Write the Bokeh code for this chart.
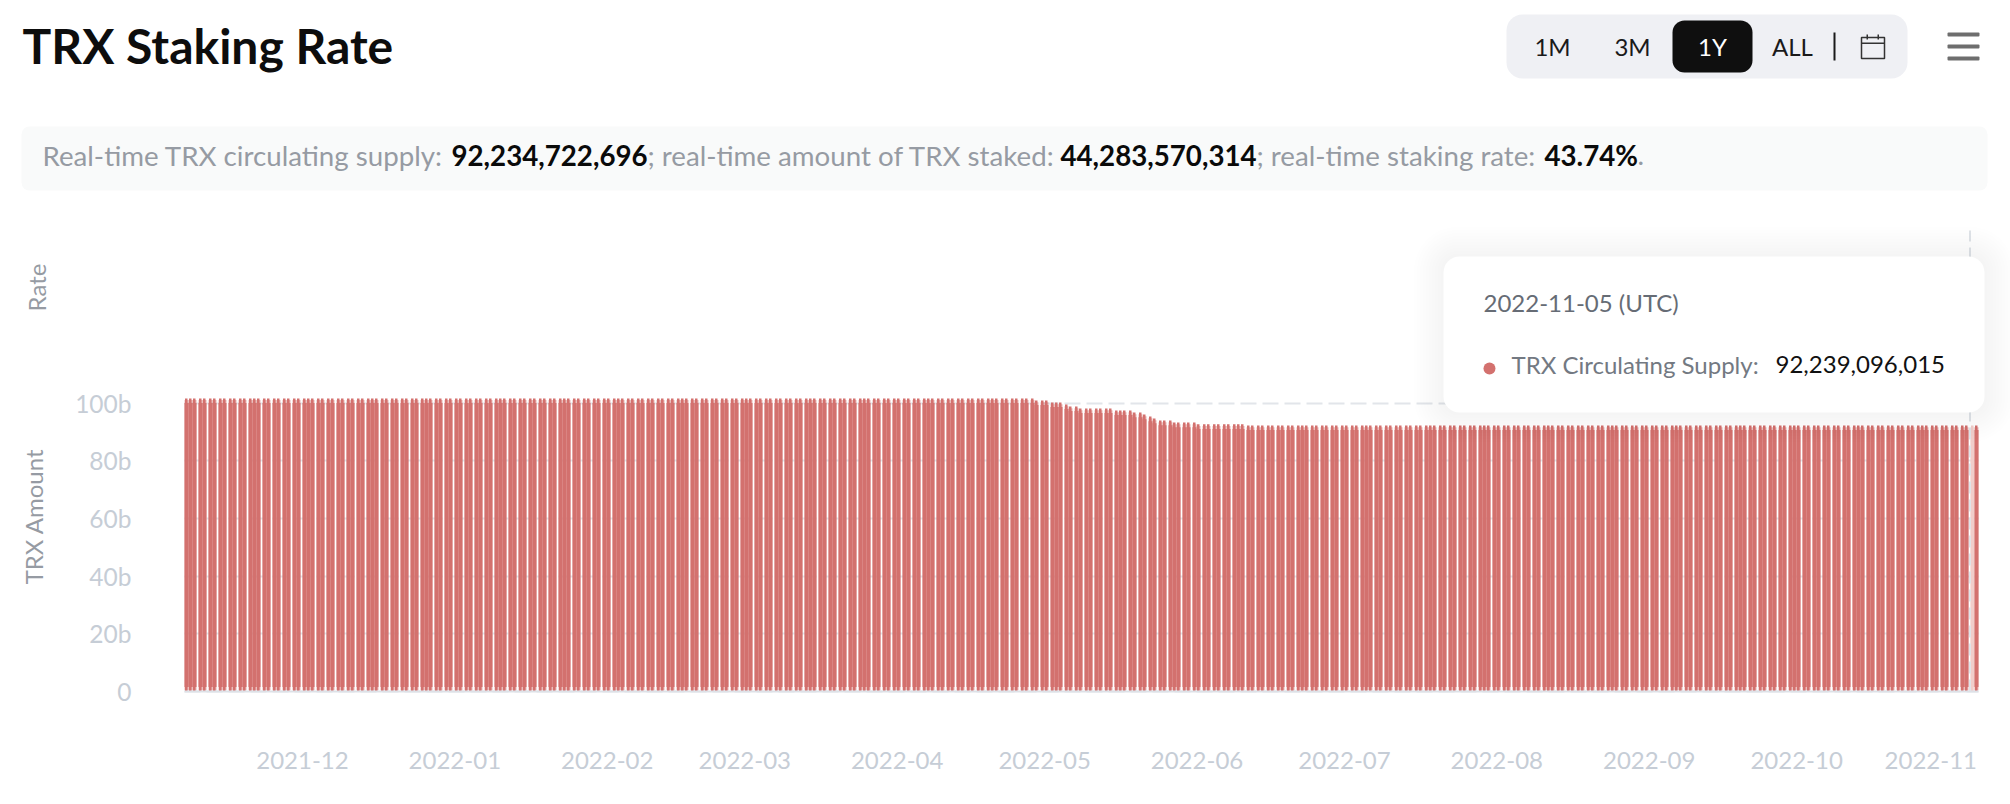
from datetime import date
import math
from bokeh.embed import file_html
from bokeh.resources import INLINE
from bokeh.plotting import figure
from bokeh.models import (BoxAnnotation, ColumnDataSource, FixedTicker, Label)

# ---------- data ----------
start_date = date(2021, 11, 7)
tick_dates = ["2021-12-01", "2022-01-01", "2022-02-01", "2022-03-01", "2022-04-01", "2022-05-01",
              "2022-06-01", "2022-07-01", "2022-08-01", "2022-09-01", "2022-10-01", "2022-11-01"]
y_ticks = [0, 20, 40, 60, 80, 100]
y_tick_labels = ["0", "20b", "40b", "60b", "80b", "100b"]
# circulating supply, billions of TRX, one value per day
supply = ([101.6] * 173 + [100.9] * 3 + [100.2] * 3 + [99.5] + [98.8] * 2 + [98.1] * 7 + [97.4] * 4
          + [96.7] * 2 + [96.0, 95.3, 94.6] + [93.9] * 3 + [93.2] * 5 + [92.6] * 10 + [92.2] * 149)
# how the daily bars bunch together on screen: days between successive three-day clusters
cluster_runs = [13, 11, 13, 11, 15, 13, 11, 13, 13, 13, 11, 13, 13, 13, 13, 11, 13, 13, 13, 13, 11,
                13, 13, 13, 13, 11, 13, 13, 13]
hover_day = 363

# ---------- layout (reference pixels) ----------
F_L, F_R, F_B = 184, 1978, 691
WIDTH, HEIGHT = 2010, 804
PX_DAY = (F_R - F_L) / len(supply)
PX_B = 2.885
RED, PALE = "#d3716e", "#f1cdca"

lefts = []
px = 0
for run in cluster_runs:
    left = run
    size = 3
    while left > 0:
        for j in range(size):
            lefts.append(px + 4 * j)
        px += 4 * size + 2
        left -= size
        size = 2


def d(x):
    return x / PX_DAY


colors = [PALE if i == hover_day else RED for i in range(len(supply))]
body = ColumnDataSource(dict(l=[d(x) for x in lefts], r=[d(x + 4) for x in lefts],
                             b=[1.6] * len(supply), t=[v - 1.6 for v in supply], c=colors))
soft = ColumnDataSource(dict(l=[d(x) for x in lefts], r=[d(x + 4) for x in lefts],
                             b=[0.4] * len(supply), t=[v - 0.6 for v in supply], c=colors))
core = ColumnDataSource(dict(l=[d(x + 0.5) for x in lefts], r=[d(x + 3) for x in lefts],
                             b=[0] * len(supply), t=supply, c=colors))

# the frame fills the whole picture, so that the page furniture around the chart is not clipped
p = figure(width=WIDTH, height=HEIGHT, output_backend="svg", toolbar_location=None,
           x_range=(d(-F_L), d(WIDTH - F_L)), y_range=((F_B - HEIGHT) / PX_B, F_B / PX_B),
           min_border=0)
p.outline_line_color = None
p.background_fill_color = "white"
p.border_fill_color = "white"

n_days = len(supply)
p.xgrid.visible = False
p.ygrid.grid_line_color = "#e2e5ea"
p.ygrid.grid_line_width = 2
p.ygrid.grid_line_dash = [16, 6]
p.ygrid.cross_bounds = (0, n_days)

p.quad(left="l", right="r", bottom="b", top="t", source=soft, fill_color="c", fill_alpha=0.5, line_color=None)
p.quad(left="l", right="r", bottom="b", top="t", source=core, fill_color="c", line_color=None)
p.quad(left="l", right="r", bottom="b", top="t", source=body, fill_color="c", line_color=None)

# axes
yaxis = p.yaxis[0]
yaxis.fixed_location = 0
yaxis.ticker = FixedTicker(ticks=y_ticks)
yaxis.major_label_overrides = dict(zip(y_ticks, y_tick_labels))
yaxis.axis_line_color = None
yaxis.major_tick_line_color = None
yaxis.minor_tick_line_color = None
yaxis.major_label_standoff = 47
yaxis.major_label_text_font = "Lato"
yaxis.major_label_text_font_size = "24.5px"
yaxis.major_label_text_color = "#c6cdd6"

tick_pos = []
for s in tick_dates:
    y, m, dd = map(int, s.split("-"))
    tick_pos.append(float((date(y, m, dd) - start_date).days))
tick_pos[-1] -= 3.7  # the last label is pushed left to stay inside the chart
xaxis = p.xaxis[0]
xaxis.fixed_location = 0
xaxis.ticker = FixedTicker(ticks=tick_pos)
xaxis.bounds = (0, n_days)
xaxis.major_label_overrides = {t: s[:7] for t, s in zip(tick_pos, tick_dates)}
xaxis.axis_line_color = "#dde1e7"
xaxis.axis_line_width = 2
xaxis.major_tick_line_color = None
xaxis.minor_tick_line_color = None
xaxis.major_label_standoff = 54
xaxis.major_label_text_font = "Lato"
xaxis.major_label_text_font_size = "24px"
xaxis.major_label_text_color = "#c6cdd6"

# crosshair
hair = p.segment(x0=[d(1969.5 - F_L)], x1=[d(1969.5 - F_L)], y0=[0], y1=[(F_B - 230) / PX_B],
                 line_color="#dfe3e8", line_width=2)
hair.glyph.line_dash = [12, 6]


def box(l, t, r, b, fill=None, alpha=1.0, radius=0, line=None, lw=1):
    p.add_layout(BoxAnnotation(left=l, right=r, top=t, bottom=b,
                               left_units="canvas", right_units="canvas",
                               top_units="canvas", bottom_units="canvas",
                               fill_color=fill, fill_alpha=alpha if fill else 0,
                               line_color=line, line_width=lw, line_alpha=1 if line else 0,
                               border_radius=radius))


def text(x, y, s, size, color, bold=False, align="left", angle=0.0):
    p.add_layout(Label(x=x, y=y, x_units="canvas", y_units="canvas", text=s,
                       text_font="Lato", text_font_size=f"{size}px", text_color=color,
                       text_font_style="bold" if bold else "normal", text_align=align,
                       text_baseline="middle", angle=angle))


# title
text(22, 45, "TRX Staking Rate", 48, "#0d0d0d", bold=True)

# range switch
box(1506, 14, 1907, 78, "#eff0f4", radius=16)
box(1672, 20, 1752, 72, "#0f0f0f", radius=12)
for cx, s, c in [(1552, "1M", "#1a1a1a"), (1632, "3M", "#1a1a1a"), (1712, "1Y", "#ffffff"), (1792, "ALL", "#1a1a1a")]:
    text(cx, 46, s, 24, c, align="center")
box(1833, 32, 1835, 60, "#1a1a1a")
box(1861, 37, 1884, 58, None, line="#333333", lw=1.5)
box(1861, 42, 1884, 43.5, "#333333")
box(1866, 34, 1867.5, 39, "#333333")
box(1877, 34, 1878.5, 39, "#333333")

# menu
for yy in (34, 46, 58):
    box(1947, yy - 2, 1979, yy + 2, "#6e6e6e", radius=1)

# info strip
box(21, 126, 1987, 190, "#f9fafa", radius=8)
GREY = "#969ba3"
STRIP = 27.7
Y_STRIP = 155
text(42, Y_STRIP, "Real-time TRX circulating supply:", STRIP, GREY)
text(451, Y_STRIP, "92,234,722,696", STRIP, "#0a0a0a", bold=True)
text(647, Y_STRIP, "; real-time amount of TRX staked:", STRIP, GREY)
text(1060, Y_STRIP, "44,283,570,314", STRIP, "#0a0a0a", bold=True)
text(1256, Y_STRIP, "; real-time staking rate:", STRIP, GREY)
text(1544, Y_STRIP, "43.74%", STRIP, "#0a0a0a", bold=True)
text(1637, Y_STRIP, ".", STRIP, GREY)

# axis titles
text(36, 287, "Rate", 24, GREY, align="center", angle=math.pi / 2)
text(33, 516, "TRX Amount", 24, GREY, align="center", angle=math.pi / 2)

# tooltip
for m in range(3, 33, 3):
    box(1443 - m, 256 - m, 1984 + m, 412 + m, "#000000", alpha=0.004, radius=14 + m)
box(1443, 256, 1984, 412, "#ffffff", radius=16)
text(1483, 302, "2022-11-05 (UTC)", 24, "#666c75")
box(1483, 362, 1495, 374, RED, radius=6)
text(1511, 364, "TRX Circulating Supply:", 24, "#737982")
text(1775, 364, "92,239,096,015", 24, "#111111")

open("out.html", "w").write(file_html(p, INLINE))
